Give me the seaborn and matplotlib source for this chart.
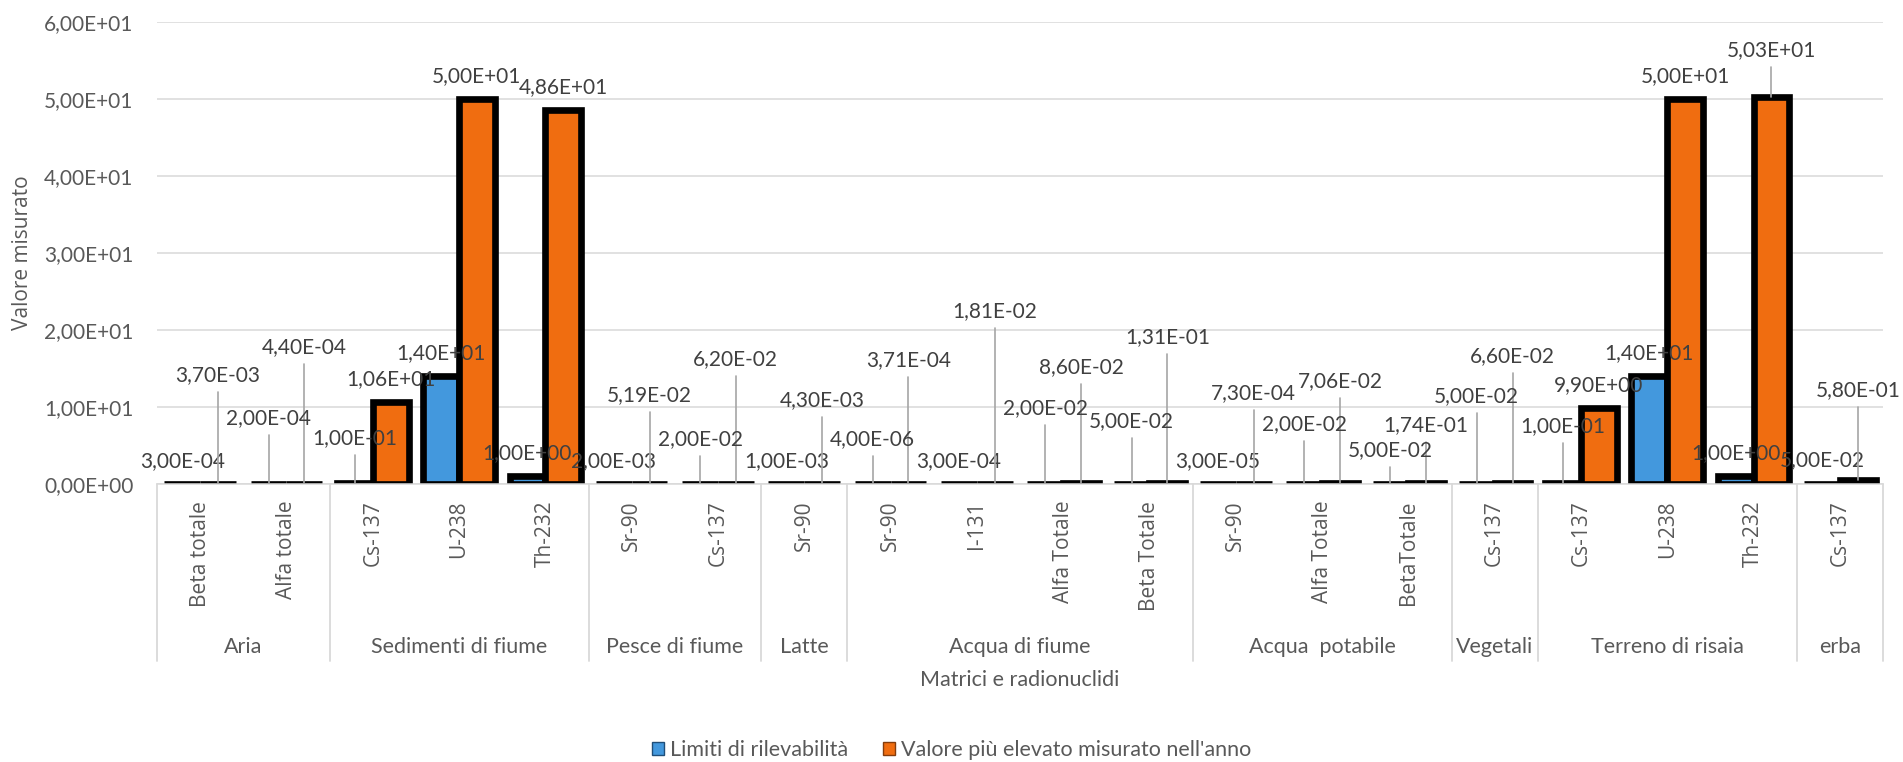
import matplotlib
matplotlib.use("Agg")
import matplotlib.pyplot as plt
from matplotlib.patches import Patch
from matplotlib.ticker import FuncFormatter
import pandas as pd
import seaborn as sns

# --- dati -------------------------------------------------------------
gruppi = ["Aria", "Sedimenti di fiume", "Pesce di fiume", "Latte", "Acqua di fiume",
          "Acqua  potabile", "Vegetali", "Terreno di risaia", "erba"]
n_per_gruppo = [2, 3, 2, 1, 4, 3, 1, 3, 1]
radionuclidi = ["Beta totale", "Alfa totale", "Cs-137", "U-238", "Th-232", "Sr-90", "Cs-137",
                "Sr-90", "Sr-90", "I-131", "Alfa Totale", "Beta Totale", "Sr-90", "Alfa Totale",
                "BetaTotale", "Cs-137", "Cs-137", "U-238", "Th-232", "Cs-137"]
limiti = [3.00e-04, 2.00e-04, 1.00e-01, 1.40e+01, 1.00e+00, 2.00e-03, 2.00e-02, 1.00e-03,
          4.00e-06, 3.00e-04, 2.00e-02, 5.00e-02, 3.00e-05, 2.00e-02, 5.00e-02, 5.00e-02,
          1.00e-01, 1.40e+01, 1.00e+00, 5.00e-02]
massimi = [3.70e-03, 4.40e-04, 1.06e+01, 5.00e+01, 4.86e+01, 5.19e-02, 6.20e-02, 4.30e-03,
           3.71e-04, 1.81e-02, 8.60e-02, 1.31e-01, 7.30e-04, 7.06e-02, 1.74e-01, 6.60e-02,
           9.90e+00, 5.00e+01, 5.03e+01, 5.80e-01]
serie = ["Limiti di rilevabilità", "Valore più elevato misurato nell'anno"]

# posizione (in unita' dell'asse y) delle etichette spostate a mano, None = sopra la barra
pos_lab_limiti = [None, 8.57, 5.97, None, None, None, 5.84, None, 5.84, None,
                  9.87, 8.18, None, 7.79, 4.42, 11.43, 7.53, None, None, None]
pos_lab_massimi = [14.16, 17.79, None, None, None, 11.56, 16.23, 10.91, 16.10, 22.47,
                   15.19, 19.09, 11.82, 13.38, 7.66, 16.62, None, None, 56.36, 12.21]

blu = "#4398dd"
arancio = "#f06d10"
grigio_testo = "#595959"
grigio_linee = "#d9d9d9"

chiavi = [str(i) for i in range(len(radionuclidi))]
df = pd.DataFrame({
    "chiave": chiavi * 2,
    "valore": limiti + massimi,
    "serie": [serie[0]] * len(chiavi) + [serie[1]] * len(chiavi),
})

sns.set_style("white")
plt.rcParams["font.family"] = ["Lato", "DejaVu Sans"]

fig = plt.figure(figsize=(19.03, 7.62), dpi=100)
ax = fig.add_axes([157 / 1903, 1 - 484 / 762, 1726 / 1903, 462 / 762])

sns.barplot(data=df, x="chiave", y="valore", hue="serie", order=chiavi, hue_order=serie,
            palette=[blu, arancio], width=0.83, edgecolor="black", linewidth=4.8,
            saturation=1, errorbar=None, legend=False, ax=ax)

ax.set_ylim(0, 60)
ax.set_xlim(-0.5, len(chiavi) - 0.5)
ax.set_yticks(range(0, 61, 10))
ax.yaxis.set_major_formatter(FuncFormatter(lambda v, p: f"{v:.2E}".replace(".", ",")))
ax.grid(axis="y", color=grigio_linee, linewidth=1.1)
ax.set_axisbelow(True)
for s in ["top", "right", "left"]:
    ax.spines[s].set_visible(False)
ax.spines["bottom"].set_color(grigio_linee)
ax.spines["bottom"].set_linewidth(1.1)
ax.tick_params(axis="y", length=0, pad=17, labelsize=15, labelcolor=grigio_testo)
ax.tick_params(axis="x", length=0, pad=12)
ax.set_xticks(range(len(chiavi)))
ax.set_xticklabels(radionuclidi, rotation=90, fontsize=15, color=grigio_testo,
                   family="Open Sans")

ax.set_ylabel("Valore misurato", fontsize=15, color=grigio_testo, family="Open Sans")
ax.yaxis.set_label_coords(-0.078, 0.5)
ax.yaxis.label.set_va("center")
ax.set_xlabel("Matrici e radionuclidi", fontsize=15.5, color=grigio_testo)
ax.xaxis.set_label_coords(0.5, -0.424)
ax.xaxis.label.set_va("center")

# etichette dei gruppi e separatori
tr = ax.get_xaxis_transform()
inizio = 0
for nome, n in zip(gruppi, n_per_gruppo):
    ax.plot([inizio - 0.5, inizio - 0.5], [0, -0.383], transform=tr, clip_on=False,
            color=grigio_linee, lw=1.3)
    ax.text(inizio + (n - 1) / 2, -0.3528, nome, transform=tr, ha="center", va="center",
            fontsize=15.5, color=grigio_testo)
    inizio += n
ax.plot([inizio - 0.5, inizio - 0.5], [0, -0.383], transform=tr, clip_on=False,
        color=grigio_linee, lw=1.3)

# etichette dei valori con linee guida
def etichetta(v):
    return f"{v:.2E}".replace(".", ",")

for barre, valori, posizioni in zip(ax.containers, [limiti, massimi],
                                    [pos_lab_limiti, pos_lab_massimi]):
    for barra, v, py in zip(barre, valori, posizioni):
        xc = barra.get_x() + barra.get_width() / 2
        if py is None:
            ax.text(xc, v + 3.0, etichetta(v), ha="center", va="center", fontsize=15,
                    color="#404040", clip_on=False)
        else:
            ax.plot([xc, xc], [py - 2.2, v], color="#a6a6a6", lw=1.2, zorder=4)
            ax.text(xc, py, etichetta(v), ha="center", va="center", fontsize=15,
                    color="#404040", clip_on=False, zorder=5)

maniglie = [Patch(facecolor=blu, edgecolor="#1f4e79", linewidth=1),
            Patch(facecolor=arancio, edgecolor="#843c0c", linewidth=1)]
fig.legend(maniglie, serie, loc="center", bbox_to_anchor=(0.5, 1 - 750 / 762), ncol=2,
           frameon=False, fontsize=15.5, labelcolor=grigio_testo, handlelength=0.55,
           handleheight=0.55, handletextpad=0.3, columnspacing=1.6)

fig.savefig("out.png", dpi=100)
